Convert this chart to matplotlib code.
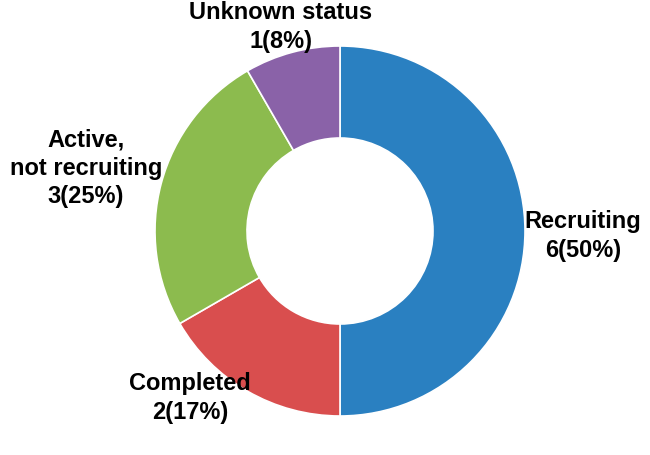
import matplotlib
matplotlib.use("Agg")
import matplotlib.pyplot as plt

# trial status counts
labels = ["Recruiting", "Completed", "Active,\nnot recruiting", "Unknown status"]
counts = [6, 2, 3, 1]
colors = ["#2A80C1", "#D94E4E", "#8CBB4E", "#8A62A8"]

# label anchor positions (figure pixels, y from top)
label_pos = [(583, 236), (190, 398), (86, 168), (281, 27)]

plt.rcParams['font.family'] = ['Liberation Sans Narrow', 'Liberation Sans', 'DejaVu Sans']

W, H = 650, 455
fig = plt.figure(figsize=(W / 100, H / 100), dpi=100)
ax = fig.add_axes([0, 0, 1, 1])

ax.pie(counts, colors=colors, startangle=90, counterclock=False,
       center=(340, H - 231), radius=185,
       wedgeprops=dict(width=92, edgecolor='white', linewidth=1.2))
# pie resets the limits, so set them afterwards
ax.set_xlim(0, W)
ax.set_ylim(0, H)
ax.set_aspect('auto')
ax.axis('off')

total = sum(counts)
for i in range(len(labels)):
    pct = round(100.0 * counts[i] / total)
    txt = "%s\n%d(%d%%)" % (labels[i], counts[i], pct)
    x, y = label_pos[i]
    ax.text(x, H - y, txt, ha='center', va='center', fontsize=17,
            fontweight='bold', linespacing=1.3, color='black')

fig.savefig("out.png", dpi=100)
plt.close()
